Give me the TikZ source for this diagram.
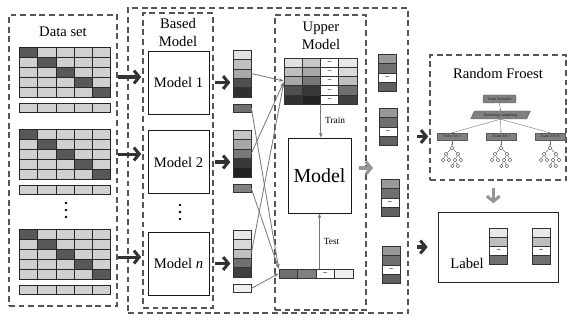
\documentclass[tikz,border=0pt]{standalone}
\usepackage{fontspec}
\setmainfont{Liberation Serif}
\usetikzlibrary{arrows.meta, positioning, calc, shapes.geometric}

\definecolor{boxgray}{RGB}{85, 85, 85}
\definecolor{arrowdark}{RGB}{50, 50, 50}
\definecolor{arrowlight}{RGB}{150, 150, 150}
\definecolor{linkgray}{RGB}{120, 120, 120}
\definecolor{celllight}{RGB}{208, 208, 208}
\definecolor{celldark}{RGB}{88, 88, 88}
\definecolor{rfgray}{RGB}{128, 128, 128}

\tikzset{
  dashbox/.style={draw=boxgray, line width=1.1pt, dash pattern=on 5pt off 3.2pt, inner sep=0},
  modelbox/.style={draw=black!90, line width=0.8pt, minimum width=1.83cm, minimum height=1.89cm},
  bigarrow/.style={draw=arrowdark, line width=2.6pt, -{Straight Barb[length=4.5pt, width=11pt]}},
  softarrow/.style={draw=arrowlight, line width=2.6pt, -{Straight Barb[length=4.5pt, width=11pt]}},
  link/.style={draw=linkgray, line width=0.7pt, -{Stealth[length=4pt, width=3pt]}},
  tabcell/.style={draw=black!85, line width=0.5pt, fill=celllight},
  prob/.style={draw=black!80, line width=0.5pt, inner sep=0, minimum width=0.54cm, minimum height=0.282cm},
  dashmark/.style={font=\fontsize{6}{6}\selectfont\bfseries},
  rfnode/.style={fill=rfgray, draw=rfgray!70!black, line width=0.3pt, inner sep=0.6pt, font=\fontsize{3.6}{4}\selectfont, text=black!85},
  leaf/.style={circle, draw=black!75, line width=0.3pt, fill=white, inner sep=0, minimum size=0.11cm},
  rfarrow/.style={draw=black!60, line width=0.3pt, -{Stealth[length=1.5pt, width=1.2pt]}},
}

\begin{document}
\begin{tikzpicture}[x=0.03cm, y=-0.03cm, every node/.style={font=\fontsize{12.5}{15}\selectfont}]
\useasboundingbox (0,0) rectangle (567,320);

% Frames
\node[dashbox, minimum width=8.4cm, minimum height=9.15cm] (stack) at (268,160.5) {};
\node[dashbox, minimum width=3.24cm, minimum height=8.73cm] (ds) at (63,160.5) {};
\node[dashbox, minimum width=2.1cm, minimum height=8.85cm] (bm) at (178,160.5) {};
\node[dashbox, minimum width=2.73cm, minimum height=8.85cm] (um) at (320.5,162.5) {};
\node[dashbox, minimum width=4.08cm, minimum height=3.75cm] (rf) at (498,117.5) {};
\node[draw=black!85, line width=0.8pt, minimum width=3.6cm, minimum height=2.1cm] (lab) at (498,247) {};

% Data set
\node (dstitle) at (63,32) {Data set};
\foreach \y in {47,129,229} {
  \foreach \r in {0,...,4}
    \foreach \c in {0,...,4}
      \draw[tabcell] (19.5+18.2*\c,\y+10*\r) rectangle ++(18.2,10);
  \foreach \r in {0,...,4}
    \draw[tabcell, fill=celldark] (19.5+18.2*\r,\y+10*\r) rectangle ++(18.2,10);
  \foreach \c in {0,...,4}
    \draw[tabcell] (19.5+18.2*\c,\y+56) rectangle ++(18.2,9);
}
\foreach \y in {203,210,217} \fill (66,\y) circle (1.1pt);

% Based models
\node[align=center] (bmtitle) at (178,32.5) {Based\\Model};
\node[modelbox] (m1) at (178.5,82.5) {Model 1};
\node[modelbox] (m2) at (178.5,162) {Model 2};
\node[modelbox] (mn) at (178.5,263.5) {Model \textit{n}};
\foreach \y in {205,212,219} \fill (180,\y) circle (1.1pt);
\foreach \m/\s in {m1/4.7pt, m2/6.8pt, mn/5.5pt}
  \draw[bigarrow, shorten >=1pt, transform canvas={yshift=\s}] (\m.west -| ds.east) -- (\m.west -| bm.west);

% Outputs of the based models
\foreach \p [count=\i] in {12,25,34,69,81}
  \node[prob, fill=black!\p] (b1-\i) at (242,45.3+9.4*\i) {};
\foreach \p [count=\i] in {22,34,53,78,87}
  \node[prob, fill=black!\p] (b2-\i) at (242,125.3+9.4*\i) {};
\foreach \p [count=\i] in {9,15,25,56,75}
  \node[prob, fill=black!\p] (bn-\i) at (242,225.3+9.4*\i) {};
\node[prob, minimum height=0.25cm, fill=black!56] (s1) at (242,108) {};
\node[prob, minimum height=0.25cm, fill=black!50] (s2) at (242,188.5) {};
\node[prob, minimum height=0.25cm, fill=black!6] (sn) at (242,288.5) {};
\draw[bigarrow, shorten <=5pt, shorten >=2pt] (m1.east) -- (m1.east -| b1-3.west);
\draw[bigarrow, shorten <=5pt, shorten >=2pt] (m2.east) -- (m2.east -| b2-3.west);
\draw[bigarrow, shorten <=5pt, shorten >=2pt] (mn.east) -- (mn.east -| bn-3.west);

% Upper model
\node[align=center] (umtitle) at (321,36) {Upper\\Model};
\foreach \a/\b/\d [count=\r] in {12/22/9, 25/34/15, 34/53/25, 69/78/56, 81/87/75} {
  \node[prob, minimum width=0.5475cm, minimum height=0.276cm, fill=black!\a] (u\r-1) at (293.1,53.4+9.2*\r) {};
  \node[prob, minimum width=0.5475cm, minimum height=0.276cm, fill=black!\b] (u\r-2) at (311.4,53.4+9.2*\r) {};
  \node[prob, minimum width=0.5475cm, minimum height=0.276cm, fill=white, dashmark] (u\r-3) at (329.6,53.4+9.2*\r) {--};
  \node[prob, minimum width=0.5475cm, minimum height=0.276cm, fill=black!\d] (u\r-4) at (347.9,53.4+9.2*\r) {};
}
\node[draw=black!90, line width=0.8pt, minimum width=1.89cm, minimum height=2.25cm, font=\fontsize{17}{20}\selectfont] (model) at (319.5,175.5) {Model};
\node[prob, minimum width=0.555cm, minimum height=0.27cm, fill=black!56] (t1) at (288.25,273.5) {};
\node[prob, minimum width=0.555cm, minimum height=0.27cm, fill=black!50] (t2) at (306.75,273.5) {};
\node[prob, minimum width=0.555cm, minimum height=0.27cm, fill=white, dashmark] (t3) at (325.25,273.5) {--};
\node[prob, minimum width=0.555cm, minimum height=0.27cm, fill=black!6] (t4) at (343.75,273.5) {};

\draw[link] (b1-3.east) -- (u3-1.west);
\draw[link] (b2-3.east) -- ([yshift=-1pt]u3-1.west);
\draw[link] (bn-3.east) -- ([yshift=-2pt]u3-1.west);
\draw[link] (s1.east) -- (t1.north west);
\draw[link] (s2.east) -- (t1.north west);
\draw[link] (sn.east) -- (t1.west);
\draw[link] (u5-2.south east) -- (u5-2.south east |- model.north) node[midway, right, font=\fontsize{8}{9}\selectfont] {Train};
\draw[link] (model.south |- t3.north) -- (model.south) node[midway, right, font=\fontsize{8}{9}\selectfont] {Test};

% Predictions
\foreach \x/\y [count=\k] in {387.5/54, 388/108, 390/179, 391/246} {
  \node[prob, fill=black!40] (r\k-1) at (\x,\y+4.7) {};
  \node[prob, fill=black!56] (r\k-2) at (\x,\y+14.1) {};
  \node[prob, fill=white, dashmark] (r\k-3) at (\x,\y+23.5) {--};
  \node[prob, fill=black!62] (r\k-4) at (\x,\y+32.9) {};
}
\coordinate (mo) at (373,168);
\draw[softarrow, shorten <=6pt] (model.east |- mo) -- (mo);

% Random forest
\node (rftitle) at (498,73) {Random Froest};
\node[rfnode, rounded corners=1pt, minimum width=0.99cm, minimum height=0.24cm] (tsamp) at (499.5,99) {Train Samples};
\node[rfnode, trapezium, trapezium left angle=65, trapezium right angle=115, minimum height=0.24cm] (boot) at (500.5,115) {Bootstrap sampling};
\node[rfnode, minimum width=0.9cm, minimum height=0.21cm] (ts1) at (452,136.5) {Train Set 1};
\node[rfnode, minimum width=0.9cm, minimum height=0.21cm] (tsi) at (501,136.5) {Train Set \textit{i}};
\node[rfnode, minimum width=0.9cm, minimum height=0.21cm] (tsN) at (550,136.5) {Train Set N};
\draw[rfarrow] (tsamp.south) -- (boot.north);
\foreach \t in {ts1, tsi, tsN}
  \draw[rfarrow] (boot.south) -- (\t.north);
\begin{scope}[level distance=0.18cm, level 1/.style={sibling distance=0.36cm}, level 2/.style={sibling distance=0.18cm}, level 3/.style={sibling distance=0.16cm}, edge from parent/.append style={draw=black!75, line width=0.3pt}]
\foreach \t/\x in {ts1/452, tsi/501, tsN/550} {
  \node[leaf] (\t-r) at (\x,148) {}
    child {node[leaf] {} child {node[leaf] {}} child {node[leaf] {}}}
    child {node[leaf] {} child {node[leaf] {} child {node[leaf] {}} child {node[leaf] {}}} child {node[leaf] {}}};
  \draw[rfarrow] (\t.south) -- (\t-r.north);
}
\end{scope}

% Label
\node (labtext) at (467,263) {Label};
\foreach \x/\n in {498.5/la, 541/lb} {
  \node[prob, minimum height=0.27cm, fill=black!9] (\n-1) at (\x,232.5) {};
  \node[prob, minimum height=0.27cm, fill=black!25] (\n-2) at (\x,241.5) {};
  \node[prob, minimum height=0.27cm, fill=white, dashmark] (\n-3) at (\x,250.5) {--};
  \node[prob, minimum height=0.27cm, fill=black!56] (\n-4) at (\x,259.5) {};
}
\draw[bigarrow, shorten <=7.5pt, shorten >=1pt] (stack.east |- ts1) -- (rf.west |- ts1);
\draw[bigarrow, shorten <=7.5pt, shorten >=8.5pt] (stack.east |- lab.west) -- (lab.west);
\draw[softarrow, shorten <=6pt, shorten >=7pt, transform canvas={xshift=-4pt}] (rf.south) -- (rf.south |- lab.north);
\end{tikzpicture}
\end{document}
